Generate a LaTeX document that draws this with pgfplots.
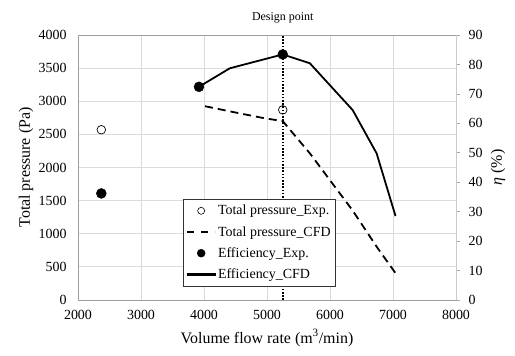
\documentclass[border=0pt]{standalone}
\usepackage{pgfplots}
\pgfplotsset{compat=1.18}
\usepackage{fontspec}
\setmainfont{Liberation Serif}
\begin{document}
\begin{tikzpicture}[x=1bp,y=1bp]
\begin{axis}[
  name=main,
  scale only axis, width=378bp, height=265bp,
  xmin=2000, xmax=8000, ymin=0, ymax=4000,
  xtick={2000,3000,...,8000}, ytick={0,500,...,4000},
  grid=major, major grid style={draw=gray!28, line width=0.8pt},
  axis line style={draw=gray!75, line width=0.8pt},
  major tick length=0pt,
  /pgf/number format/assume math mode=true,
  /pgf/number format/1000 sep={},
  ticklabel style={font=\fontsize{14}{16}\selectfont},
  yticklabel style={xshift=-8bp},
  xticklabel style={yshift=-7bp},
  xlabel={Volume flow rate (m\textsuperscript{3}/min)},
  ylabel={Total pressure (Pa)},
  every axis x label/.style={at={(axis description cs:0.5,-0.1434)}, anchor=center, font=\fontsize{16}{18}\selectfont},
  every axis y label/.style={at={(axis description cs:-0.1376,0.5)}, anchor=center, rotate=90, font=\fontsize{16}{18}\selectfont},
]
\addplot[black, line width=2.2pt, dash pattern=on 1.6bp off 1.6bp] coordinates {(5250,0) (5250,4000)};
\addplot[black, line width=1.8pt, dash pattern=on 8bp off 5bp] coordinates {
 (4016,2925) (4500,2830) (4950,2745) (5250,2700) (5680,2214) (6360,1350) (6740,805) (7040,405)};
\addplot[only marks, mark=o, mark size=4.3bp, mark options={black, line width=0.7pt}] coordinates {
 (2370,2570) (5250,2870)};
\coordinate (dp) at (axis cs:5250,4000);
\end{axis}
\begin{axis}[
  scale only axis, width=378bp, height=265bp,
  xmin=2000, xmax=8000, ymin=0, ymax=90,
  ytick={0,10,...,90},
  axis x line=none, axis y line*=right,
  axis line style={draw=gray!40, line width=0.8pt},
  ytick style={draw=gray!70, line width=0.6pt}, tick align=outside, major tick length=4bp,
  /pgf/number format/assume math mode=true,
  ticklabel style={font=\fontsize{14}{16}\selectfont},
  yticklabel style={xshift=5bp},
  ylabel={\textit{η} (\%)},
  every axis y label/.style={at={(axis description cs:1.111,0.5)}, anchor=center, rotate=90, font=\fontsize{16}{18}\selectfont},
  legend style={at={(axis description cs:0.278,0.381)}, anchor=north west,
    draw=black!80, fill=white,
    font=\fontsize{14}{16}\selectfont, row sep=6bp, inner xsep=3bp, inner ysep=4bp},
  legend cell align=left,
]
\addplot[only marks, mark=*, mark size=5bp, mark options={black}, forget plot] coordinates {
 (2370,36.2) (3920,72.4) (5250,83.4)};
\addplot[black, line width=1.8pt, forget plot] coordinates {
 (3920,72.4) (4410,78.7) (5250,83.4) (5680,80.4) (6360,64.5) (6740,49.8) (7040,28.5)};
\addlegendimage{legend image code/.code={\draw[black, line width=0.6pt] (14bp,0bp) circle (3.5bp);}}
\addlegendentry{Total pressure\_Exp.}
\addlegendimage{legend image code/.code={\draw[black, line width=1.8pt, dash pattern=on 7bp off 7bp] (0bp,0bp) -- (28bp,0bp);}}
\addlegendentry{Total pressure\_CFD}
\addlegendimage{legend image code/.code={\fill[black] (14bp,0bp) circle (4bp);}}
\addlegendentry{Efficiency\_Exp.}
\addlegendimage{legend image code/.code={\fill[black] (0bp,-1.1bp) rectangle (28bp,1.1bp);}}
\addlegendentry{Efficiency\_CFD\hspace{4bp}}
\end{axis}
\node[font=\fontsize{12}{13}\selectfont] at ([yshift=17bp]dp) {Design point};
\path[use as bounding box] (-78,-55) rectangle (437,300);
\end{tikzpicture}
\end{document}
